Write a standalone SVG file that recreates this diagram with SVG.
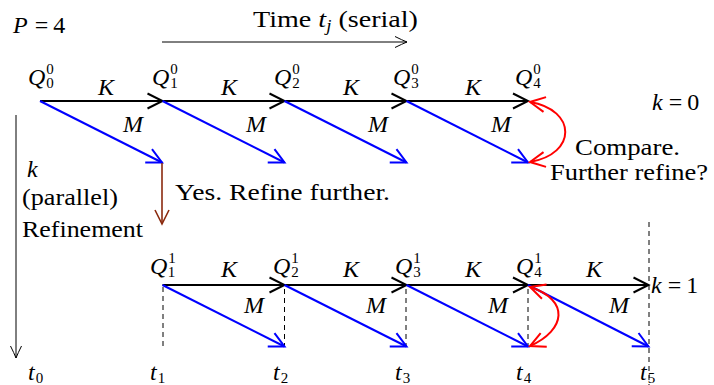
<svg xmlns="http://www.w3.org/2000/svg" width="714" height="385" viewBox="0 0 714 385">
<style>
text{font-family:"Liberation Serif","DejaVu Serif",serif;fill:#000}
.t{font-size:24px}
.m{font-size:24px;font-style:italic}
.n{font-style:normal}
.s{font-size:15px;font-style:normal}
.k{fill:none;stroke:#000;stroke-width:2}
.b{fill:none;stroke:#0000ff;stroke-width:2}
.r{fill:none;stroke:#ff0000;stroke-width:2}
.br{fill:none;stroke:#8b2a0e;stroke-width:1.6}
.thin{fill:none;stroke:#000;stroke-width:1}
.d{fill:none;stroke:#000;stroke-width:1;stroke-dasharray:5 4}
</style>
<defs>
<marker id="hk" markerUnits="userSpaceOnUse" viewBox="0 0 20 18" markerWidth="20" markerHeight="18" refX="17" refY="9" orient="auto"><path d="M2 1.5Q11 6 17 9Q11 12 2 16.5" fill="none" stroke="#000" stroke-width="2"/></marker>
<marker id="hb" markerUnits="userSpaceOnUse" viewBox="0 0 20 18" markerWidth="20" markerHeight="18" refX="17" refY="9" orient="auto"><path d="M2 1.5Q11 6 17 9Q11 12 2 16.5" fill="none" stroke="#0000ff" stroke-width="2"/></marker>
<marker id="hr" markerUnits="userSpaceOnUse" viewBox="0 0 20 18" markerWidth="20" markerHeight="18" refX="17" refY="9" orient="auto-start-reverse"><path d="M2 1.5Q11 6 17 9Q11 12 2 16.5" fill="none" stroke="#ff0000" stroke-width="2"/></marker>
<marker id="hbr" markerUnits="userSpaceOnUse" viewBox="0 0 20 18" markerWidth="20" markerHeight="18" refX="17" refY="9" orient="auto"><path d="M3 2Q11 6 17 9Q11 12 3 16" fill="none" stroke="#8b2a0e" stroke-width="1.6"/></marker>
<marker id="ht" markerUnits="userSpaceOnUse" viewBox="0 0 16 14" markerWidth="16" markerHeight="14" refX="14" refY="7" orient="auto"><path d="M2 1.5Q9 5 14 7Q9 9 2 12.5" fill="none" stroke="#000" stroke-width="1"/></marker>
</defs>

<g id="connectors">
<line class="thin" x1="162" y1="42" x2="407" y2="42" marker-end="url(#ht)"/>
<line class="thin" x1="16" y1="115" x2="16" y2="358" marker-end="url(#ht)"/>
<line class="k" x1="40" y1="101" x2="162.5" y2="101" marker-end="url(#hk)"/>
<line class="k" x1="162.5" y1="101" x2="284.5" y2="101" marker-end="url(#hk)"/>
<line class="k" x1="284.5" y1="101" x2="406.5" y2="101" marker-end="url(#hk)"/>
<line class="k" x1="406.5" y1="101" x2="528" y2="101" marker-end="url(#hk)"/>
<line class="b" x1="40" y1="101" x2="162" y2="162.5" marker-end="url(#hb)"/>
<line class="b" x1="162.5" y1="101" x2="284.5" y2="162.5" marker-end="url(#hb)"/>
<line class="b" x1="284.5" y1="101" x2="406.5" y2="162.5" marker-end="url(#hb)"/>
<line class="b" x1="406.5" y1="101" x2="528" y2="162.5" marker-end="url(#hb)"/>
<path class="r" d="M530 102C577 110 577 154 530 162" marker-start="url(#hr)" marker-end="url(#hr)"/>
<line class="br" x1="162" y1="163" x2="162" y2="224" marker-end="url(#hbr)"/>
<line class="d" x1="163" y1="287" x2="163" y2="347"/>
<line class="d" x1="284.5" y1="289" x2="284.5" y2="347"/>
<line class="d" x1="406" y1="289" x2="406" y2="347"/>
<line class="d" x1="528" y1="289" x2="528" y2="347"/>
<line class="d" x1="649" y1="222" x2="649" y2="385"/>
<line class="k" x1="162.5" y1="285" x2="284.5" y2="285" marker-end="url(#hk)"/>
<line class="k" x1="284.5" y1="285" x2="406.5" y2="285" marker-end="url(#hk)"/>
<line class="k" x1="406.5" y1="285" x2="528" y2="285" marker-end="url(#hk)"/>
<line class="k" x1="528" y1="285" x2="648.5" y2="285" marker-end="url(#hk)"/>
<line class="b" x1="162.5" y1="285" x2="284.5" y2="346.5" marker-end="url(#hb)"/>
<line class="b" x1="284.5" y1="285" x2="406.5" y2="346.5" marker-end="url(#hb)"/>
<line class="b" x1="406.5" y1="285" x2="528" y2="346.5" marker-end="url(#hb)"/>
<line class="b" x1="528" y1="285" x2="648.5" y2="346.5" marker-end="url(#hb)"/>
<path class="r" d="M530 287C570 300 566 330 530 346" marker-start="url(#hr)" marker-end="url(#hr)"/>
</g>

<g id="labels-axes">
<text x="13" y="33" class="m">P<tspan class="n" dx="7">=</tspan><tspan class="n" dx="5">4</tspan></text>
<text x="253" y="27" class="t" textLength="165" lengthAdjust="spacingAndGlyphs">Time <tspan font-style="italic">t</tspan><tspan font-style="italic" font-size="16" dy="4">j</tspan><tspan dy="-4"> (serial)</tspan></text>
<text x="27" y="177" class="m">k</text>
<text x="22" y="205" class="t" textLength="96" lengthAdjust="spacingAndGlyphs">(parallel)</text>
<text x="22" y="237" class="t" textLength="121" lengthAdjust="spacingAndGlyphs">Refinement</text>
<text x="175" y="200" class="t" textLength="215" lengthAdjust="spacingAndGlyphs">Yes.  Refine further.</text>
<text x="575" y="155" class="t" textLength="105" lengthAdjust="spacingAndGlyphs">Compare.</text>
<text x="550" y="180" class="t" textLength="158" lengthAdjust="spacingAndGlyphs">Further refine?</text>
<text x="652" y="110" class="m">k<tspan class="n" dx="6">=</tspan><tspan class="n" dx="5">0</tspan></text>
<text x="651" y="293" class="m">k<tspan class="n" dx="6">=</tspan><tspan class="n" dx="5">1</tspan></text>
</g>

<g id="Q0_0"><text x="28" y="85" class="m">Q<tspan class="s" dx="1" dy="-11">0</tspan><tspan class="s" dx="-7.5" dy="14">0</tspan></text></g>
<g id="Q1_0"><text x="152" y="85" class="m">Q<tspan class="s" dx="1" dy="-11">0</tspan><tspan class="s" dx="-7.5" dy="14">1</tspan></text></g>
<g id="Q2_0"><text x="274" y="85" class="m">Q<tspan class="s" dx="1" dy="-11">0</tspan><tspan class="s" dx="-7.5" dy="14">2</tspan></text></g>
<g id="Q3_0"><text x="393" y="85" class="m">Q<tspan class="s" dx="1" dy="-11">0</tspan><tspan class="s" dx="-7.5" dy="14">3</tspan></text></g>
<g id="Q4_0"><text x="515" y="85" class="m">Q<tspan class="s" dx="1" dy="-11">0</tspan><tspan class="s" dx="-7.5" dy="14">4</tspan></text></g>

<g id="Q1_1"><text x="150" y="274" class="m">Q<tspan class="s" dx="1" dy="-11">1</tspan><tspan class="s" dx="-7.5" dy="14">1</tspan></text></g>
<g id="Q2_1"><text x="273" y="274" class="m">Q<tspan class="s" dx="1" dy="-11">1</tspan><tspan class="s" dx="-7.5" dy="14">2</tspan></text></g>
<g id="Q3_1"><text x="395" y="274" class="m">Q<tspan class="s" dx="1" dy="-11">1</tspan><tspan class="s" dx="-7.5" dy="14">3</tspan></text></g>
<g id="Q4_1"><text x="516" y="274" class="m">Q<tspan class="s" dx="1" dy="-11">1</tspan><tspan class="s" dx="-7.5" dy="14">4</tspan></text></g>

<g id="edge-labels" text-anchor="middle">
<text x="106" y="95" class="m">K</text>
<text x="229" y="95" class="m">K</text>
<text x="351" y="95" class="m">K</text>
<text x="473" y="95" class="m">K</text>
<text x="133" y="132" class="m">M</text>
<text x="256" y="132" class="m">M</text>
<text x="378" y="132" class="m">M</text>
<text x="501" y="132" class="m">M</text>
<text x="229" y="277" class="m">K</text>
<text x="351" y="277" class="m">K</text>
<text x="473" y="277" class="m">K</text>
<text x="594" y="277" class="m">K</text>
<text x="254" y="313" class="m">M</text>
<text x="376" y="313" class="m">M</text>
<text x="498" y="313" class="m">M</text>
<text x="619" y="313" class="m">M</text>
</g>

<g id="time-labels">
<text x="28" y="380" class="m">t<tspan class="s" dx="1" dy="3">0</tspan></text>
<text x="150" y="380" class="m">t<tspan class="s" dx="1" dy="3">1</tspan></text>
<text x="273" y="380" class="m">t<tspan class="s" dx="1" dy="3">2</tspan></text>
<text x="395" y="380" class="m">t<tspan class="s" dx="1" dy="3">3</tspan></text>
<text x="516" y="380" class="m">t<tspan class="s" dx="1" dy="3">4</tspan></text>
<text x="640" y="380" class="m">t<tspan class="s" dx="1" dy="3">5</tspan></text>
</g>
</svg>
